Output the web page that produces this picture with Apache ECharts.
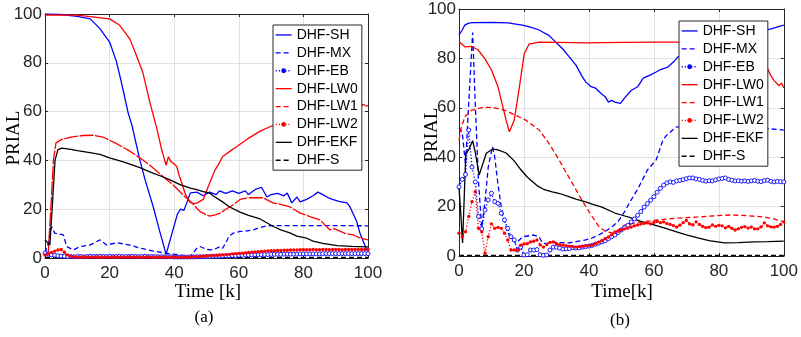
<!DOCTYPE html>
<html><head><meta charset="utf-8">
<script src="https://cdn.jsdelivr.net/npm/echarts@6/dist/echarts.min.js"></script>
<style>html,body{margin:0;padding:0;background:#fff}#c{width:801px;height:337px}</style>
</head><body><div id="c"></div>
<script>
// ---- tick values shared by both panels ----
const xTicks = [0, 20, 40, 60, 80, 100];
const yTicks = [0, 20, 40, 60, 80, 100];
const seriesNames = ['DHF-SH', 'DHF-MX', 'DHF-EB', 'DHF-LW0', 'DHF-LW1', 'DHF-LW2', 'DHF-EKF', 'DHF-S'];

// ---- panel (a): [time k, PRIAL] ----
const aSH = [[0,100],[5,99.8],[10,99],[14,98],[17,94],[20,88.5],[22,81],[23.2,74.5],[24.5,67],[25.7,59.7],[27,54],[27.9,48.6],[29.4,40],[31,32],[33.5,21],[35.5,11],[37.5,1.5],[39.5,11],[41,18],[42,20],[43,19.5],[44,23],[45,26.7],[47,27],[49,25.5],[51,27],[53,26],[54,27.5],[56,26.5],[58,27.5],[60,26.5],[62,27.5],[63,26],[65,28],[67,29],[68.7,25],[70,26],[72,26.5],[74,25.5],[75,26.6],[76.4,22.6],[78,25],[79,23],[81,24],[83,25.5],[84.5,27],[86,26],[88,24.5],[89,24],[91,23.2],[93.5,22.6],[94.4,21],[96.5,15],[97.5,10.2],[99.6,3.3],[100,3]];
const aMX = [[0,2],[1,6],[2,12.9],[3,10.2],[5.7,9.5],[6.7,4.7],[8.8,3.3],[10.9,4.7],[13.9,5.3],[17,7.4],[19.1,5.3],[22.2,6.3],[26.3,5.3],[29.4,4],[34.6,2.6],[37.7,1.9],[41.8,1.2],[44.9,0.5],[47,4],[48,4.7],[50,3.5],[52,3.3],[54.2,4.7],[55,4],[56.2,6.8],[57,9],[58.3,10.2],[60.4,10.9],[62,11],[64.5,11.5],[66,12.3],[68.6,13.2],[75,13.3],[85,13.3],[100,13.2]];
const aEB = [2.0,1.6,1.3,1.1,0.9,0.8,0.7,0.6,0.6,0.5,0.6,0.6,0.5,0.6,0.7,0.6,0.6,0.7,0.6,0.6,
  0.7,0.6,0.6,0.7,0.6,0.6,0.6,0.7,0.6,0.6,0.6,0.7,0.6,0.6,0.6,0.5,0.5,0.5,0.5,0.5,
  0.4,0.4,0.4,0.4,0.4,0.4,0.4,0.5,0.5,0.5,0.6,0.6,0.7,0.7,0.8,0.8,0.9,0.9,1.0,1.0,
  1.1,1.1,1.2,1.2,1.3,1.3,1.3,1.4,1.4,1.4,1.5,1.5,1.5,1.5,1.6,1.6,1.6,1.6,1.6,1.7,
  1.7,1.7,1.7,1.7,1.7,1.7,1.8,1.8,1.8,1.8,1.8,1.8,1.8,1.8,1.8,1.8,1.8,1.8,1.8,1.8,1.8];
const aLW0 = [[0,99.6],[10,99.5],[20,98],[23,95.5],[26.3,89.7],[28,84],[30.3,76],[32.5,63.6],[34.7,52.7],[36,45],[37,40.3],[37.5,38],[38.2,41.5],[39,39.5],[40,38.5],[40.8,37.5],[41.5,34],[42.5,30],[43.5,26],[44.9,22.8],[46,22.3],[47,22.5],[49,24],[51,30.8],[52.6,36],[54,39],[55,41.6],[57,43.5],[59.4,45.7],[62.5,48.6],[66.6,52],[70,54],[75,56.5],[80,58.5],[85,60],[90,61],[94,61.5],[96,61.2],[97.5,61.7],[98.5,63],[99.5,62.2],[100,62.5]];
const aLW1 = [[0,1],[1,2],[2,25],[2.6,40],[3.4,47.2],[5,48.5],[8,49.5],[11.8,50.2],[15,50.3],[18,49.5],[22,47],[26,44],[29.4,41],[32.5,38],[36,34],[40,29.5],[43,25.5],[45.5,22.6],[48,19],[50,17.7],[51,17.2],[53,17.8],[54.2,18.4],[56,20],[58.3,21.8],[60.4,24],[63,24.7],[67.5,24.7],[70.7,22.5],[73,22],[75.8,21],[79,18.4],[82,17],[85.1,15.6],[86,14.5],[88.2,11.5],[89.5,12],[91.3,11],[93,10],[95.4,9.5],[97,8.5],[100,7.4]];
const aLW2 = [1.2,1.7,2.3,2.8,3.3,3.5,2.4,1.2,0.6,0.4,0.3,0.3,0.4,0.3,0.3,0.3,0.4,0.3,0.3,0.3,
  0.3,0.4,0.3,0.3,0.3,0.3,0.4,0.3,0.3,0.3,0.3,0.3,0.4,0.3,0.3,0.3,0.3,0.3,0.3,0.3,
  0.3,0.3,0.3,0.3,0.3,0.4,0.4,0.5,0.6,0.7,0.8,0.9,1.0,1.1,1.2,1.3,1.4,1.5,1.7,1.8,
  1.9,2.0,2.1,2.3,2.4,2.5,2.6,2.7,2.8,2.9,3.0,3.0,3.1,3.1,3.2,3.2,3.3,3.3,3.3,3.4,
  3.4,3.4,3.4,3.5,3.4,3.4,3.5,3.5,3.4,3.5,3.5,3.5,3.4,3.5,3.5,3.5,3.5,3.5,3.5,3.5,3.5];
const aEKF = [[0,7.5],[0.6,6.6],[1.5,5.3],[2.2,20],[3.1,40],[4,44.4],[5.2,45],[8,44.5],[10,44],[13.9,43.2],[17,42.5],[20,41],[24,39.5],[27.4,38],[29.4,37],[33,35],[36,33.5],[38.7,32],[42,30],[45,28.6],[47,28],[49,27.2],[51,26.6],[52,25.5],[55,23],[57,21],[60.4,18.8],[63,17.5],[66.6,16],[70.7,12.9],[73,11.5],[75.8,10.3],[78,9],[81,8.1],[83,6.9],[86,6],[90.4,5.1],[95,4.8],[100,4.6]];
const aS = [[0,0.2],[25,0.2],[50,0.2],[75,0.2],[100,0.2]];

// ---- panel (b): [time k, PRIAL] ----
const bSH = [[0,89.5],[1,91.5],[1.8,93.5],[3,94.3],[4.3,94.5],[10,94.6],[15,94.4],[19.5,93.5],[22,92.7],[24.7,91.5],[26,90.5],[27.7,89.3],[28.7,88],[30,86.3],[31.8,84],[34,80.5],[36,77.3],[38,72.5],[39,70.5],[40.5,68.7],[42,68],[44,65.5],[45,64.5],[46,62.3],[47,63],[48,62.3],[49.7,61.8],[51,64],[53,67],[55,68.5],[56.7,72],[58.5,73],[60.7,74.5],[62,75.5],[64.3,76.5],[66,78.5],[67.4,80.6],[70,82],[75,85],[80,87],[85,88],[90,89.8],[92.7,90.7],[96,92],[100,93.5]];
const bMX = [[0,52],[1,50],[2,37],[3,62],[4.2,90.5],[5,62],[6,30],[7,11.5],[8,22],[9,36],[10.3,44.3],[11,40],[12,29],[13,20],[14.8,10],[16,7],[17.5,5.1],[19.6,7.8],[21.6,8.2],[23,8.5],[24.7,7.8],[25.6,5.3],[26.7,5],[28.7,5.7],[30,5.5],[33.8,5.3],[36,5.8],[39,6.5],[41,7.3],[43,8.5],[45,10],[47,11.7],[49,14],[51,18],[53,22.7],[55,27],[58,34.8],[60.7,38.9],[62.8,47],[64,49],[66.8,52.2],[70,52.5],[75,52],[85,52],[92.7,51.8],[100,51]];
const bEB = [28,31,33,51,36,30,16,11,18.6,22.7,25.4,22,21.3,17.3,14.6,11.2,7.8,6.5,2.4,3.6,
  0.4,0.5,2.4,2.4,2.6,0.5,0.3,0.4,2.4,3.6,3.5,3.2,2.8,2.9,3.0,3.4,3.2,3.3,3.6,3.8,
  4.0,4.3,4.8,5.2,5.7,6.1,7.0,7.8,8.5,9.5,10.6,11.5,12.4,13.8,15,16.5,18,19.8,21.2,22.6,
  24,25.8,27.4,28.7,29.6,30,29.8,30.4,30.6,30.9,31.3,31.6,31.6,31.2,31.0,30.6,30.3,30.5,30.4,30.8,
  31.2,31.4,31.6,31.0,30.7,30.4,30.5,30.3,30.4,30.2,30.4,30.6,30.3,30.1,30.5,30.7,30.2,30.0,30.2,30.1,30.0];
const bLW0 = [[0,86.8],[1.8,84.7],[3.9,84.9],[5.9,83.4],[7.9,80],[10,75.3],[12,68.5],[13.5,60.4],[14.5,55],[15.5,50.3],[16,49.8],[17,55],[18.6,68.5],[20.1,82],[21.6,85.8],[24.7,86.6],[30,86.5],[40,86.3],[50,86.5],[61,86.6],[70,86.6],[80,86.8],[86,86.6],[88,86],[90,83],[92.7,79.3],[94.8,76.5],[96,73],[97,71],[98.5,69],[99.3,70],[100,68]];
const bLW1 = [[0,47],[0.7,52],[1.8,56.4],[3.9,59],[7.4,60.2],[10.4,60.2],[14.5,58.8],[20.6,55],[24.7,51],[27.7,45.6],[30.8,38.9],[34,31.5],[37.8,22.7],[40,18],[43,12],[45,10],[47.5,9.3],[49,10.5],[51,12.5],[55,13.6],[61.3,14.6],[67,15.3],[73.5,15.8],[78,16.2],[83.5,16.6],[88,16.4],[93.8,15.8],[97,15],[100,13.8]];
const bLW2 = [9.2,7.8,9.8,16,22,26,11.2,9.8,1.1,7.8,13,11.2,11.6,11.2,9.2,6.5,2.4,2.4,2.4,4.4,
  4.9,5.0,5.7,6.0,6.5,4.5,3.6,4.6,5.5,5.7,5.0,4.6,4.4,4.2,4.0,3.8,3.6,3.8,3.9,4.1,
  4.3,4.4,5.0,5.6,6.2,7.0,7.7,8.6,9.7,10.0,10.6,11.0,11.3,11.7,12.2,12.6,13.0,13.2,13.4,13.0,
  13.6,14.0,13.5,13.8,13.2,12.8,12.3,11.7,12.5,13.5,14.4,13.0,12.6,13.8,12.8,12.0,11.5,11.7,12.6,12.0,
  12.4,12.2,11.4,12.0,11.2,10.5,11.0,11.6,11.9,11.3,11.7,11.0,11.0,11.8,13.4,12.2,11.8,11.7,12.0,12.8,13.8];
const bEKF = [[0,28],[0.5,18],[1.1,5.3],[2.1,41.6],[3,43],[4.2,46.7],[5,42],[6.2,32.8],[7,36],[8.4,41.6],[10.4,43.3],[12,43],[14.5,41.7],[17,38.5],[19,35],[21,32],[24,28.5],[26,27],[28.7,26],[31,25.3],[33.8,24],[36,23],[39,21.9],[41,21],[44,19.8],[48,17.4],[50,16.6],[53,15.4],[56,14],[60,12.6],[63.4,11.3],[67,9.8],[70,8.6],[73.5,7.3],[77,6.2],[81.7,5.3],[86,5.4],[90.8,5.7],[95,5.8],[100,6]];
const bS = [[0,0.2],[25,0.2],[50,0.2],[75,0.2],[100,0.2]];

// ---- styling ----
const BLUE = '#0000ff', RED = '#ff0000', BLACK = '#000000', AXIS = '#262626';
const SANS = 'Liberation Sans, Arial, Helvetica, sans-serif';
const SERIF = 'Liberation Serif, Times New Roman, serif';

// EB uses hollow rings (white fill, thin blue outline); LW2 uses small filled dots
const styles = {
  'DHF-SH':  { color: BLUE,  type: 'solid' },
  'DHF-MX':  { color: BLUE,  type: [5, 3] },
  'DHF-EB':  { color: BLUE,  type: [1.2, 2], marker: 'circle', size: 4, border: 0.9, fill: '#fff' },
  'DHF-LW0': { color: RED,   type: 'solid' },
  'DHF-LW1': { color: RED,   type: [5, 3] },
  'DHF-LW2': { color: RED,   type: [1.2, 2], marker: 'circle', size: 3.4, border: 0 },
  'DHF-EKF': { color: BLACK, type: 'solid' },
  'DHF-S':   { color: BLACK, type: [5, 3] }
};

const indexed = arr => arr.map((v, i) => [i, v]);

function line(name, data, gi, dashOverride) {
  const s = styles[name];
  return {
    type: 'line', name, data, xAxisIndex: gi, yAxisIndex: gi,
    symbol: s.marker || 'none', symbolSize: s.size || 0, showSymbol: !!s.marker,
    showAllSymbol: true,
    itemStyle: { color: s.fill || s.color, borderColor: s.color, borderWidth: s.border || 0 },
    lineStyle: { color: s.color, width: 1.3, type: dashOverride || s.type },
    emphasis: { disabled: true }, silent: true, animation: false
  };
}

function xAxis(gi) {
  return {
    type: 'value', gridIndex: gi, min: 0, max: 100, interval: 20,
    axisLine: { show: true, onZero: false, lineStyle: { color: AXIS, width: 1 } },
    axisTick: { show: true, inside: true, length: 3, lineStyle: { color: AXIS } },
    axisLabel: { fontFamily: SANS, fontSize: 17, color: AXIS, margin: 7,
      formatter: v => xTicks.includes(v) ? String(v) : '' },
    splitLine: { show: true, lineStyle: { color: '#e2e2e2', width: 1 } }
  };
}
function yAxis(gi) {
  return {
    type: 'value', gridIndex: gi, min: 0, max: 100, interval: 20,
    axisLine: { show: true, onZero: false, lineStyle: { color: AXIS, width: 1 } },
    axisTick: { show: true, inside: true, length: 3, lineStyle: { color: AXIS } },
    axisLabel: { fontFamily: SANS, fontSize: 17, color: AXIS, margin: 3,
      formatter: v => yTicks.includes(v) ? String(v) : '' },
    splitLine: { show: true, lineStyle: { color: '#e2e2e2', width: 1 } }
  };
}
function mirror(kind, gi) {
  return {
    type: 'value', gridIndex: gi, min: 0, max: 100, interval: 20,
    position: kind === 'x' ? 'top' : 'right',
    axisLine: { show: true, onZero: false, lineStyle: { color: AXIS, width: 1 } },
    axisTick: { show: true, inside: true, length: 3, lineStyle: { color: AXIS } },
    axisLabel: { show: false }, splitLine: { show: false }
  };
}

function legend(left, top) {
  return {
    orient: 'vertical', left, top,
    backgroundColor: '#fff', borderColor: AXIS, borderWidth: 1, borderRadius: 0,
    padding: [1, 4, 1, 2], itemGap: 0, itemWidth: 16, itemHeight: 6,
    textStyle: { fontFamily: SANS, fontSize: 14, color: '#000', lineHeight: 17.9 },
    selectedMode: false,
    data: seriesNames.map(n => {
      const s = styles[n];
      return {
        name: n,
        lineStyle: { color: s.color, width: 1.3, type: s.type },
        itemStyle: { color: s.color, borderColor: s.color, borderWidth: 0,
          opacity: s.marker ? 1 : 0 }
      };
    })
  };
}

function label(text, x, y, size, rotate) {
  return {
    type: 'text', x, y, rotation: rotate ? Math.PI / 2 : 0,
    style: { text, font: size + 'px ' + SERIF, fill: '#000', align: 'center', verticalAlign: 'middle' }
  };
}

const chart = echarts.init(document.getElementById('c'), null, { renderer: 'canvas' });
chart.setOption({
  animation: false,
  backgroundColor: '#fff',
  grid: [
    { left: 45, top: 14, width: 323, height: 244, containLabel: false },
    { left: 459, top: 9, width: 328, height: 247, containLabel: false }
  ],
  xAxis: [xAxis(0), xAxis(1), mirror('x', 0), mirror('x', 1)],
  yAxis: [yAxis(0), yAxis(1), mirror('y', 0), mirror('y', 1)],
  legend: [legend(273, 25), legend(679, 21)],
  graphic: [
    label('PRIAL', 14, 138, 19, true),
    label('PRIAL', 432, 135, 19, true),
    label('Time [k]', 208, 292, 19, false),
    label('Time[k]', 622, 292, 19, false),
    label('(a)', 204, 318, 17, false),
    label('(b)', 620, 321, 17, false)
  ],
  series: [
    line('DHF-SH', aSH, 0),
    line('DHF-MX', aMX, 0),
    line('DHF-EB', indexed(aEB), 0),
    line('DHF-LW0', aLW0, 0),
    line('DHF-LW1', aLW1, 0, [14, 1.5]),
    line('DHF-LW2', indexed(aLW2), 0),
    line('DHF-EKF', aEKF, 0),
    line('DHF-S', aS, 0),
    line('DHF-SH', bSH, 1),
    line('DHF-MX', bMX, 1),
    line('DHF-EB', indexed(bEB), 1),
    line('DHF-LW0', bLW0, 1),
    line('DHF-LW1', bLW1, 1),
    line('DHF-LW2', indexed(bLW2), 1),
    line('DHF-EKF', bEKF, 1),
    line('DHF-S', bS, 1)
  ]
});
</script></body></html>
